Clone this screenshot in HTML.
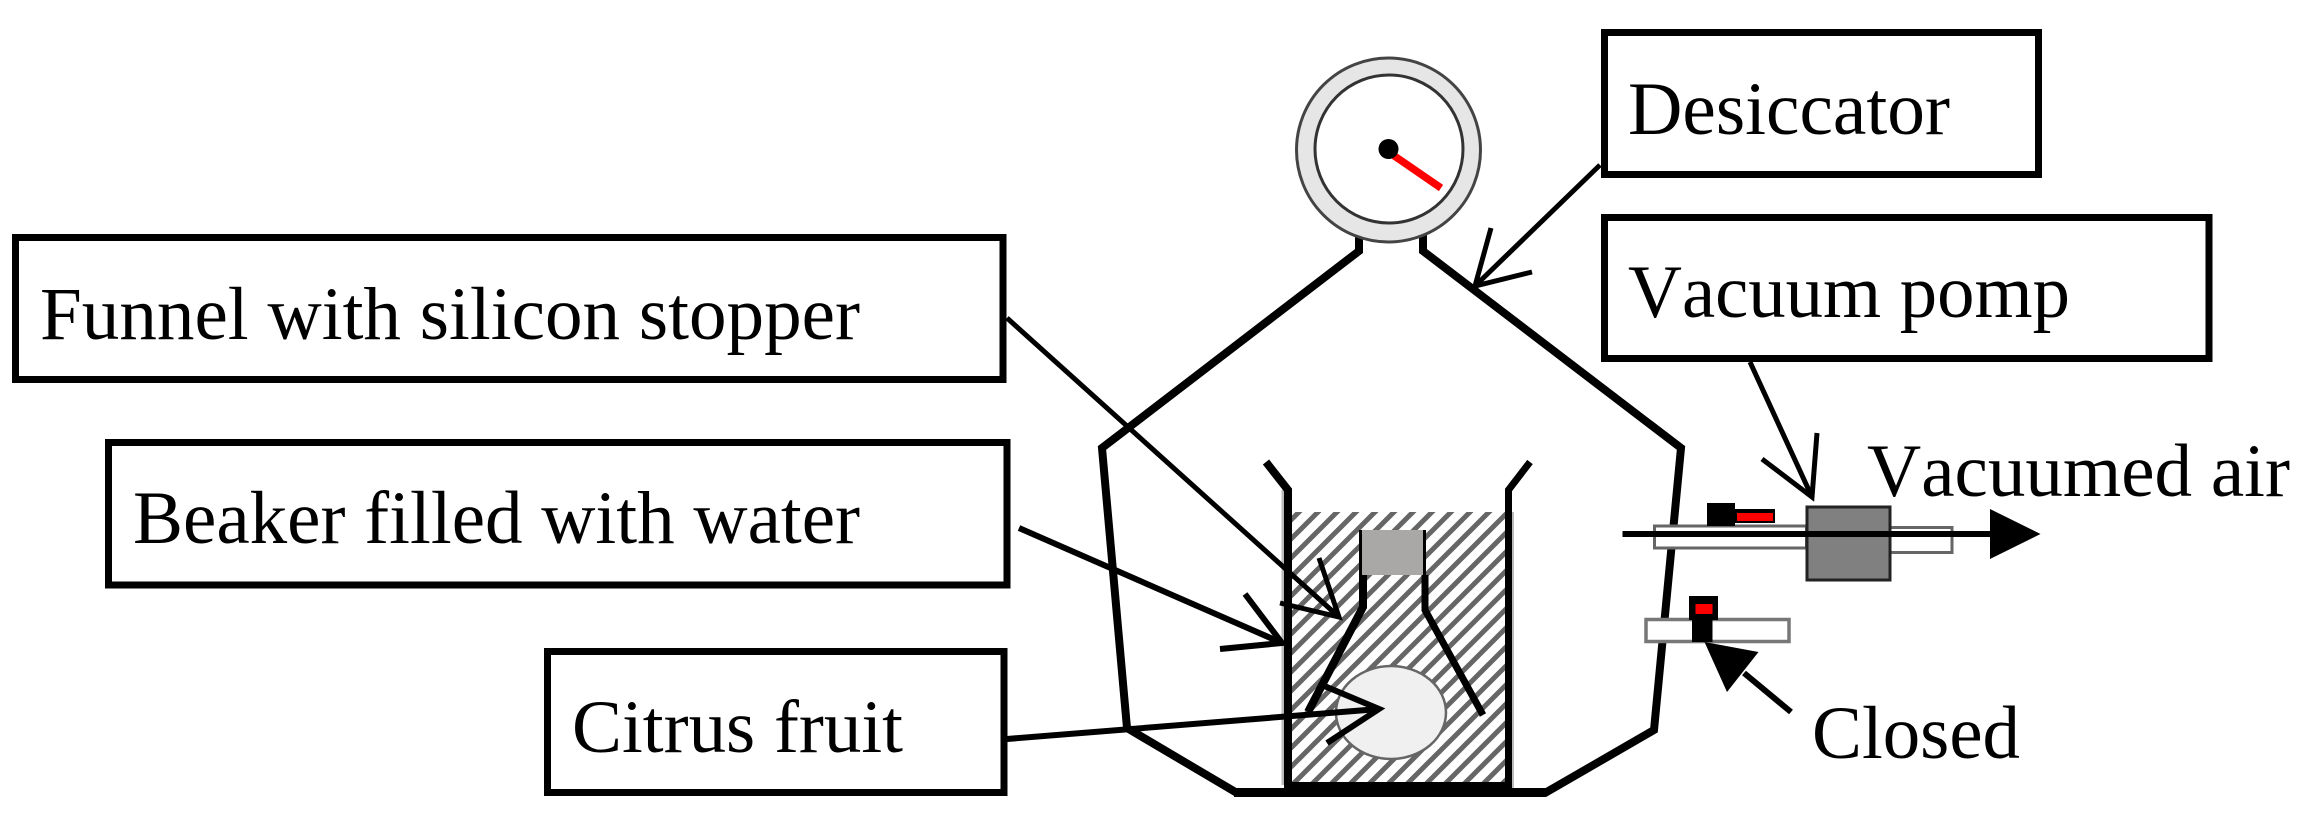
<!DOCTYPE html>
<html><head><meta charset="utf-8"><style>
html,body{margin:0;padding:0;background:#fff;width:2306px;height:822px;overflow:hidden}
svg{display:block}
text{font-family:"Liberation Serif",serif;font-size:75px;fill:#000;font-kerning:none}
</style></head><body>
<svg width="2306" height="822" viewBox="0 0 2306 822" xmlns="http://www.w3.org/2000/svg">
<defs>
<pattern id="h" patternUnits="userSpaceOnUse" x="6" y="0" width="19" height="19">
<path d="M-2,21 L21,-2 M-7,7 L7,-7 M12,26 L26,12" stroke="#666" stroke-width="5" fill="none"/>
</pattern>
</defs>
<rect width="2306" height="822" fill="#fff"/>

<!-- desiccator body -->
<path d="M1359,235 V251 L1102,448 L1127,728 L1237,793 H1545 L1654,730 L1681,448 L1423,251 V235" fill="none" stroke="#000" stroke-width="8" stroke-linejoin="miter"/>

<!-- gauge -->
<circle cx="1388.5" cy="150" r="92" fill="#e6e6e6" stroke="#444" stroke-width="3"/>
<circle cx="1389" cy="149" r="74" fill="#fff" stroke="#333" stroke-width="3"/>
<line x1="1393" y1="155" x2="1441" y2="188" stroke="#f00" stroke-width="7.5"/>
<circle cx="1388.5" cy="149" r="10" fill="#000"/>

<!-- water -->
<rect x="1292" y="512" width="216" height="272" fill="#fff"/>
<rect x="1292" y="512" width="216" height="272" fill="url(#h)"/>

<!-- beaker -->
<line x1="1511.5" y1="512" x2="1511.5" y2="788" stroke="#bbb" stroke-width="5"/>
<line x1="1283" y1="490" x2="1283" y2="785" stroke="#bbb" stroke-width="3"/>
<path d="M1266,462 L1288,490 V786" fill="none" stroke="#000" stroke-width="8"/>
<path d="M1530,462 L1508.5,490 V786" fill="none" stroke="#000" stroke-width="7"/>
<rect x="1284" y="782" width="228" height="15" fill="#000"/>
<rect x="1234" y="788" width="312" height="9" fill="#000"/>

<!-- citrus -->
<ellipse cx="1391" cy="712.5" rx="55" ry="46.5" fill="#f0f0f0" stroke="#666" stroke-width="2.5"/>

<!-- funnel -->
<rect x="1362" y="530" width="61" height="45" fill="#aaa7a7"/>
<line x1="1360.5" y1="530" x2="1360.5" y2="577" stroke="#000" stroke-width="3"/>
<line x1="1424.5" y1="530" x2="1424.5" y2="577" stroke="#000" stroke-width="3"/>
<path d="M1363,575 V607 L1308,712" fill="none" stroke="#000" stroke-width="8"/>
<path d="M1425,575 V610 L1483,715" fill="none" stroke="#000" stroke-width="7"/>

<!-- upper pipe -->
<rect x="1654.5" y="526" width="152" height="22" fill="#fff" stroke="#666" stroke-width="3"/>
<rect x="1889" y="527.5" width="63" height="25" fill="#fff" stroke="#666" stroke-width="3"/>
<rect x="1807" y="507" width="83" height="73" fill="#808080" stroke="#222" stroke-width="3"/>
<line x1="1622.5" y1="534" x2="1992" y2="534" stroke="#000" stroke-width="6"/>
<polygon points="1990,509 1990,559 2040.5,534" fill="#000"/>
<rect x="1707" y="503" width="28" height="23" fill="#000"/>
<rect x="1735" y="509" width="40" height="14" fill="#000"/>
<rect x="1737" y="513" width="36" height="8" fill="#f00"/>

<!-- lower pipe -->
<rect x="1646" y="619.5" width="143" height="22" fill="#fff" stroke="#777" stroke-width="3.5"/>
<rect x="1692" y="618" width="20.5" height="24" fill="#000"/>
<rect x="1689" y="596" width="29" height="24" fill="#000"/>
<rect x="1695.5" y="604" width="17" height="10" fill="#f00"/>

<!-- closed arrow -->
<line x1="1791" y1="712" x2="1744" y2="673" stroke="#000" stroke-width="6"/>
<polygon points="1704.5,642 1758.5,652 1727,692" fill="#000"/>

<!-- boxes -->
<g fill="#fff" stroke="#000" stroke-width="7" stroke-linejoin="miter">
<rect x="1604.5" y="32.5" width="434" height="142"/>
<rect x="1604.5" y="217.5" width="604.5" height="141"/>
<rect x="15.5" y="237.5" width="987.5" height="142"/>
<rect x="108.5" y="442.5" width="898.5" height="142.5"/>
<rect x="547.5" y="651.5" width="456.5" height="141"/>
</g>

<!-- leader arrows -->
<g fill="none" stroke="#000">
<path d="M1600,165 L1475,286" stroke-width="5"/>
<path d="M1491,228 L1475,286 L1532,272" stroke-width="5"/>
<path d="M1007,318 L1339,617" stroke-width="5"/>
<path d="M1319,558 L1339,617 L1280,603" stroke-width="5"/>
<path d="M1019,528 L1282,643" stroke-width="6"/>
<path d="M1245,594 L1282,643 L1220,649" stroke-width="6"/>
<path d="M1007,739 L1379,709" stroke-width="6"/>
<path d="M1322,685 L1379,709 L1327,743" stroke-width="6"/>
<path d="M1750,362 L1812,497" stroke-width="5"/>
<path d="M1817,433 L1812,497 L1762,459" stroke-width="5"/>
</g>

<!-- labels -->
<text x="40" y="339" textLength="820" lengthAdjust="spacingAndGlyphs">Funnel with silicon stopper</text>
<text x="133" y="543" textLength="727" lengthAdjust="spacingAndGlyphs">Beaker filled with water</text>
<text x="572" y="752" textLength="331" lengthAdjust="spacingAndGlyphs">Citrus fruit</text>
<text x="1628" y="134" textLength="322" lengthAdjust="spacingAndGlyphs">Desiccator</text>
<text x="1628" y="317" textLength="442" lengthAdjust="spacingAndGlyphs">Vacuum pomp</text>
<text x="1867" y="496" textLength="423" lengthAdjust="spacingAndGlyphs">Vacuumed air</text>
<text x="1812" y="758" textLength="208" lengthAdjust="spacingAndGlyphs">Closed</text>
</svg>
</body></html>
